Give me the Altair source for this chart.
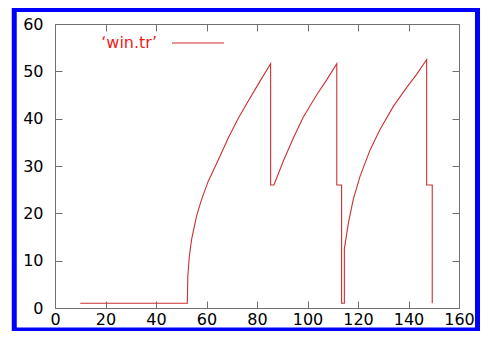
import altair as alt
import pandas as pd

# Values
xs = [10, 52.4, 52.6, 53.2, 54.1, 56.1, 58.1, 60.7, 64.7, 68.6, 72.6, 76.6, 80.5, 85.4,
      85.4, 86.7, 90.4, 94.4, 98.3, 103.6, 107.6, 111.6,
      111.6, 113.5, 113.5, 114.6, 114.6, 116.2, 118.1, 120.8, 124.8, 128.7, 134.0, 139.3, 143.3, 147.2,
      147.2, 149.4, 149.4]
ys = [1, 1, 6.7, 10.9, 14.5, 19.5, 23.0, 26.8, 31.3, 35.9, 40.1, 43.8, 47.3, 51.6,
      26.0, 26.0, 31.0, 35.9, 40.3, 45.0, 48.2, 51.6,
      26.0, 26.0, 1, 1, 12.5, 18.0, 22.9, 27.8, 33.4, 37.7, 42.6, 46.6, 49.4, 52.5,
      26.0, 26.0, 1]
x_ticks = [0, 20, 40, 60, 80, 100, 120, 140, 160]
y_ticks = [0, 10, 20, 30, 40, 50, 60]
series_name = "‘win.tr’"

df = pd.DataFrame({"i": list(range(len(xs))), "x": xs, "y": ys})

LINE = "#cc3030"
GRAY = "#707070"
FONT = "DejaVu Sans"
W, H = 404, 284
TICK = 7

xscale = alt.Scale(domain=[0, 160], nice=False)
yscale = alt.Scale(domain=[0, 60], nice=False)

common = dict(grid=True, gridColor=GRAY, gridWidth=1, ticks=False, domain=False,
              title=None, labelFlush=False, labelFont=FONT, labelFontSize=16,
              labelColor="black")

main = alt.Chart(df).mark_line(color=LINE, strokeWidth=1.1).encode(
    x=alt.X("x:Q", scale=xscale,
            axis=alt.Axis(orient="bottom", values=x_ticks, labelPadding=3,
                          gridDash=[TICK, H - 2 * TICK, TICK, 2000], **common)),
    y=alt.Y("y:Q", scale=yscale,
            axis=alt.Axis(orient="left", values=y_ticks, labelPadding=12,
                          gridDash=[TICK, W - 2 * TICK, TICK, 2000], **common)),
    order="i:Q",
)

one = alt.Data(values=[{"k": 1}])

legend_text = alt.Chart(one).mark_text(
    align="right", baseline="middle", font=FONT, fontSize=16, color="#ee1c1c"
).encode(x=alt.value(102), y=alt.value(19), text=alt.value(series_name))

legend_line = alt.Chart(one).mark_rule(color=LINE, strokeWidth=1.1).encode(
    x=alt.value(117), x2=alt.value(169), y=alt.value(19)
)

frame = alt.Chart(one).mark_rect(fillOpacity=0, stroke="#0000ff", strokeWidth=5).encode(
    x=alt.value(-40.75), x2=alt.value(422.5), y=alt.value(-14.5), y2=alt.value(306)
)

chart = alt.layer(main, legend_text, legend_line, frame).properties(
    width=W, height=H,
    padding={"left": 47, "top": 16, "right": 21, "bottom": 23},
    autosize=alt.AutoSizeParams(type="none"),
    background="white",
).configure_view(stroke=GRAY, strokeWidth=1)

chart.save("out.html", embed_options={"renderer": "svg", "actions": False})
